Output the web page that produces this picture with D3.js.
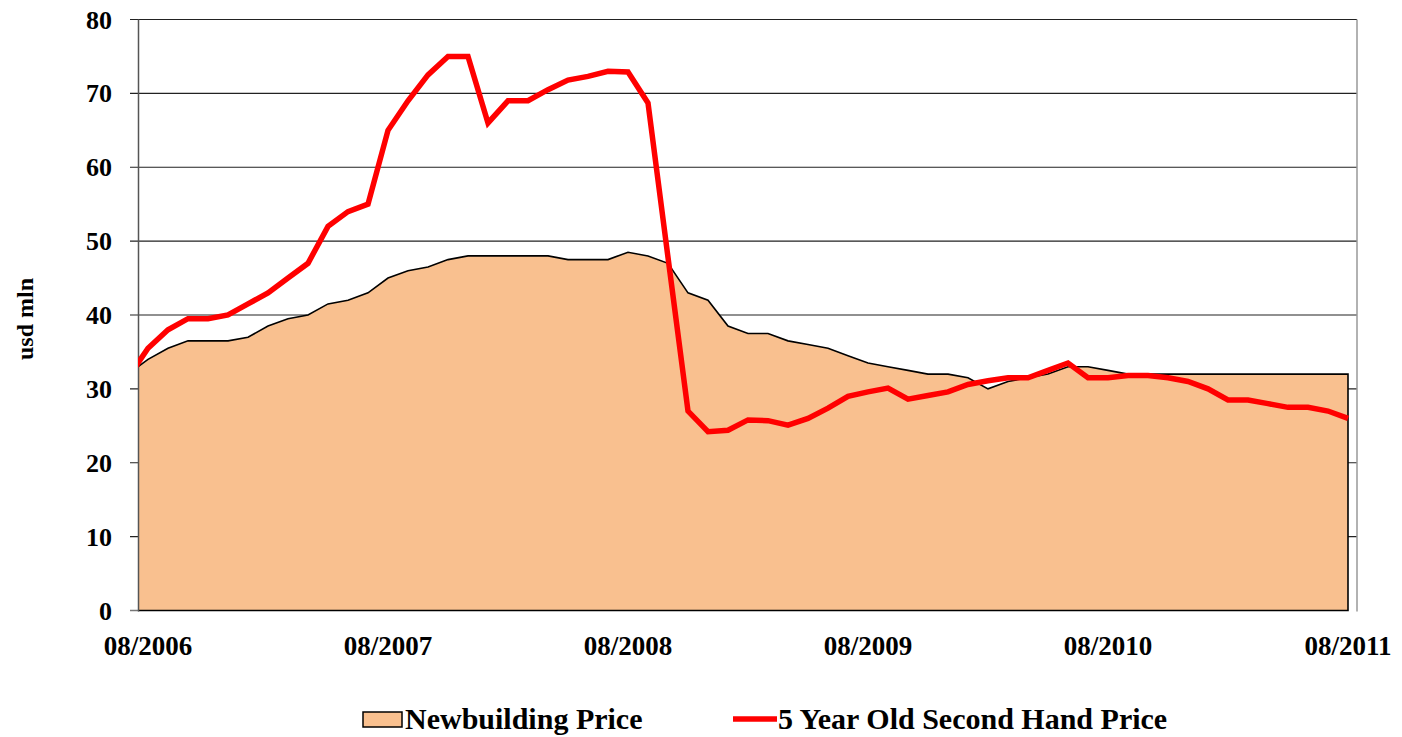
<!DOCTYPE html>
<html>
<head>
<meta charset="utf-8">
<script src="https://cdn.jsdelivr.net/npm/d3@7"></script>
<style>
  body { margin: 0; background: #fff; }
  text { font-family: "Liberation Serif", "Times New Roman", serif; font-weight: bold; fill: #000; }
</style>
</head>
<body>
<div id="chart"></div>
<script>
// monthly categories, 07/2006 is only partly visible (clipped at the axis)
const months = ["07/2006","08/2006","09/2006","10/2006","11/2006","12/2006",
  "01/2007","02/2007","03/2007","04/2007","05/2007","06/2007","07/2007","08/2007","09/2007","10/2007","11/2007","12/2007",
  "01/2008","02/2008","03/2008","04/2008","05/2008","06/2008","07/2008","08/2008","09/2008","10/2008","11/2008","12/2008",
  "01/2009","02/2009","03/2009","04/2009","05/2009","06/2009","07/2009","08/2009","09/2009","10/2009","11/2009","12/2009",
  "01/2010","02/2010","03/2010","04/2010","05/2010","06/2010","07/2010","08/2010","09/2010","10/2010","11/2010","12/2010",
  "01/2011","02/2011","03/2011","04/2011","05/2011","06/2011","07/2011","08/2011"];

const newbuilding = [32, 34, 35.5, 36.5, 36.5, 36.5, 37, 38.5, 39.5, 40, 41.5, 42, 43, 45, 46, 46.5,
  47.5, 48, 48, 48, 48, 48, 47.5, 47.5, 47.5, 48.5, 48, 47, 43, 42, 38.5, 37.5, 37.5, 36.5, 36, 35.5,
  34.5, 33.5, 33, 32.5, 32, 32, 31.5, 30, 31, 31.5, 32, 33, 33, 32.5, 32, 32, 32, 32, 32, 32,
  32, 32, 32, 32, 32, 32];

const secondHand = [31.5, 35.5, 38, 39.5, 39.5, 40, 41.5, 43, 45, 47, 52, 54, 55, 65, 69, 72.5,
  75, 75, 66, 69, 69, 70.5, 71.8, 72.3, 73, 72.9, 68.7, 47.8, 27, 24.2, 24.4, 25.8, 25.7, 25.1, 26, 27.4,
  29, 29.6, 30.1, 28.6, 29.1, 29.6, 30.6, 31.1, 31.5, 31.5, 32.5, 33.5, 31.5, 31.5, 31.8, 31.8, 31.5, 31,
  30, 28.5, 28.5, 28, 27.5, 27.5, 27, 26];

const xTickLabels = ["08/2006", "08/2007", "08/2008", "08/2009", "08/2010", "08/2011"];
const yTicks = [0, 10, 20, 30, 40, 50, 60, 70, 80];

const W = 1402, H = 737;
const plotLeft = 138, plotRight = 1358, plotTop = 19.5, plotBottom = 610.5;

const svg = d3.select("#chart").append("svg")
  .attr("width", W)
  .attr("height", H);

const x = d3.scaleLinear()
  .domain([0.5, months.length - 0.5])
  .range([plotLeft, plotRight]);
const y = d3.scaleLinear()
  .domain([0, 80])
  .range([plotBottom, plotTop]);

svg.append("clipPath").attr("id", "plot")
  .append("rect")
  .attr("x", plotLeft).attr("y", 0)
  .attr("width", plotRight - plotLeft).attr("height", plotBottom + 2);

// gridlines + small ticks left of axis
svg.selectAll("line.grid")
  .data(yTicks.filter(d => d > 0))
  .enter().append("line")
  .attr("class", "grid")
  .attr("x1", plotLeft - 8).attr("x2", plotRight - 1)
  .attr("y1", d => y(d)).attr("y2", d => y(d))
  .attr("stroke", "#222")
  .attr("stroke-width", 1.2);

svg.append("line")
  .attr("x1", plotLeft - 8).attr("x2", plotLeft)
  .attr("y1", y(0)).attr("y2", y(0))
  .attr("stroke", "#777").attr("stroke-width", 1.5);

// area for newbuilding price
const area = d3.area()
  .x((d, i) => x(i))
  .y0(y(0))
  .y1(d => y(d));

svg.append("path")
  .datum(newbuilding)
  .attr("clip-path", "url(#plot)")
  .attr("d", area)
  .attr("fill", "#F9C08F")
  .attr("stroke", "#000")
  .attr("stroke-width", 1.6);

// plot frame: left axis and right border
svg.append("line")
  .attr("x1", plotLeft + 0.5).attr("x2", plotLeft + 0.5)
  .attr("y1", plotTop).attr("y2", plotBottom + 1)
  .attr("stroke", "#555").attr("stroke-width", 1.5);
svg.append("line")
  .attr("x1", plotRight - 1).attr("x2", plotRight - 1)
  .attr("y1", plotTop).attr("y2", plotBottom + 1)
  .attr("stroke", "#999").attr("stroke-width", 1.5);

// second hand price line
const line = d3.line()
  .x((d, i) => x(i))
  .y(d => y(d));

svg.append("path")
  .datum(secondHand)
  .attr("clip-path", "url(#plot)")
  .attr("d", line)
  .attr("fill", "none")
  .attr("stroke", "#FF0000")
  .attr("stroke-width", 5.5)
  .attr("stroke-linejoin", "miter");

// y labels
svg.selectAll("text.ytick")
  .data(yTicks)
  .enter().append("text")
  .attr("class", "ytick")
  .attr("x", 112)
  .attr("y", d => y(d))
  .attr("dy", "0.35em")
  .attr("text-anchor", "end")
  .style("font-size", "26px")
  .text(d => d);

// x labels
svg.selectAll("text.xtick")
  .data(xTickLabels)
  .enter().append("text")
  .attr("class", "xtick")
  .attr("x", d => x(months.indexOf(d)))
  .attr("y", 655)
  .attr("text-anchor", "middle")
  .style("font-size", "27px")
  .text(d => d);

// axis title
svg.append("text")
  .attr("transform", "translate(33,319) rotate(-90)")
  .attr("text-anchor", "middle")
  .style("font-size", "24px")
  .text("usd mln");

// legend
svg.append("rect")
  .attr("x", 363).attr("y", 712)
  .attr("width", 39).attr("height", 15)
  .attr("fill", "#F9C08F")
  .attr("stroke", "#000").attr("stroke-width", 1.5);
svg.append("text")
  .attr("x", 405).attr("y", 729)
  .style("font-size", "30px")
  .text("Newbuilding Price");

svg.append("line")
  .attr("x1", 733).attr("x2", 777)
  .attr("y1", 719).attr("y2", 719)
  .attr("stroke", "#FF0000").attr("stroke-width", 5.5);
svg.append("text")
  .attr("x", 778).attr("y", 729)
  .style("font-size", "30px")
  .text("5 Year Old Second Hand Price");
</script>
</body>
</html>
